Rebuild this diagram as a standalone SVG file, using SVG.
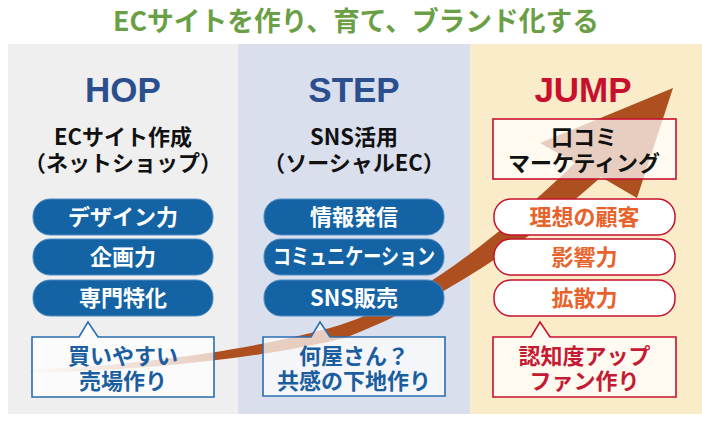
<svg xmlns="http://www.w3.org/2000/svg" width="702" height="421" viewBox="0 0 702 421">
<defs>
<linearGradient id="tailFade" gradientUnits="userSpaceOnUse" x1="30" y1="0" x2="215" y2="0">
<stop offset="0" stop-color="#ae4f1f" stop-opacity="0.05"/>
<stop offset="1" stop-color="#ae4f1f" stop-opacity="1"/>
</linearGradient>
<style>
.jp{font-family:"Noto Sans CJK JP","Noto Sans",sans-serif;font-weight:bold;text-anchor:middle}
.head{font-family:"Liberation Sans",Arial,sans-serif;font-weight:bold;font-size:35px;text-anchor:middle}
.sub{font-size:22px;fill:#111}
.bpill{fill:#1463a5;stroke:#4f8cc4;stroke-width:1}
.rpill{fill:#ffffff;stroke:#c8102e;stroke-width:1.5}
.bt{font-size:22px;fill:#ffffff}
.rt{font-size:22px;fill:#e8632b}
.callB{fill:#ffffff;fill-opacity:0.72;stroke:#2a6db0;stroke-width:1.6}
.callR{fill:#ffffff;fill-opacity:0.72;stroke:#c8102e;stroke-width:1.6}
.ctB{font-size:22px;fill:#1b5e9f}
.ctR{font-size:22px;fill:#c41a34}
</style>
</defs>

<rect x="0" y="0" width="702" height="421" fill="#ffffff"/>
<text class="jp" x="356" y="31" font-size="27" fill="#6a9f45" textLength="486" lengthAdjust="spacingAndGlyphs">ECサイトを作り、育て、ブランド化する</text>

<g id="panels">
<rect x="8" y="44" width="230" height="370" fill="#efefef"/>
<rect x="238" y="44" width="232" height="370" fill="#d9dfec"/>
<rect x="470" y="44" width="232" height="370" fill="#faebc9"/>
</g>

<g id="connectors">
<path id="growth-arrow" fill="url(#tailFade)" d="M30,370 C160,364 270,346 340,325 C420,300 500,235 575,163 L540,143 L673,88 L637,198 L601,177 C520,250 430,305 345,338 C270,356 160,370 30,373 Z"/>
</g>

<g id="hop">
<text class="head" x="123" y="102" fill="#2b4f8e">HOP</text>
<text class="jp sub" x="123" y="145">ECサイト作成</text>
<text class="jp sub" x="123" y="171">（ネットショップ）</text>
</g>
<g id="hop-design"><rect class="bpill" x="33" y="199" width="180" height="36" rx="17"/><text class="jp bt" x="123" y="225">デザイン力</text></g>
<g id="hop-plan"><rect class="bpill" x="33" y="239" width="180" height="36" rx="17"/><text class="jp bt" x="123" y="265">企画力</text></g>
<g id="hop-special"><rect class="bpill" x="33" y="280" width="180" height="36" rx="17"/><text class="jp bt" x="123" y="306">専門特化</text></g>
<g id="hop-callout">
<path class="callB" d="M32,337 H79 L88,322 L98,337 H214 V397 H32 Z"/>
<text class="jp ctB" x="123" y="364">買いやすい</text>
<text class="jp ctB" x="123" y="389">売場作り</text>
</g>

<g id="step">
<text class="head" x="354" y="102" fill="#2b4f8e">STEP</text>
<text class="jp sub" x="354" y="145">SNS活用</text>
<text class="jp sub" x="354" y="171">（ソーシャルEC）</text>
</g>
<g id="step-info"><rect class="bpill" x="264" y="199" width="180" height="36" rx="17"/><text class="jp bt" x="354" y="225">情報発信</text></g>
<g id="step-comm"><rect class="bpill" x="264" y="239" width="180" height="36" rx="17"/><text class="jp bt" x="354" y="264" font-size="20" textLength="162" lengthAdjust="spacingAndGlyphs">コミュニケーション</text></g>
<g id="step-sales"><rect class="bpill" x="264" y="280" width="180" height="36" rx="17"/><text class="jp bt" x="354" y="306">SNS販売</text></g>
<g id="step-callout">
<path class="callB" d="M263,337 H311 L320,322 L330,337 H445 V396 H263 Z"/>
<text class="jp ctB" x="354" y="364">何屋さん？</text>
<text class="jp ctB" x="354" y="389">共感の下地作り</text>
</g>

<g id="jump">
<text class="head" x="583" y="102" fill="#c8102e">JUMP</text>
</g>
<g id="jump-box">
<rect x="493" y="119" width="183" height="60" fill="#ffffff" fill-opacity="0.72" stroke="#c8102e" stroke-width="1.6"/>
<text class="jp sub" x="584" y="145">口コミ</text>
<text class="jp sub" x="584" y="171">マーケティング</text>
</g>
<g id="jump-ideal"><rect class="rpill" x="494" y="199" width="181" height="36" rx="17"/><text class="jp rt" x="584.5" y="225">理想の顧客</text></g>
<g id="jump-influence"><rect class="rpill" x="494" y="239" width="181" height="36" rx="17"/><text class="jp rt" x="584.5" y="265">影響力</text></g>
<g id="jump-spread"><rect class="rpill" x="494" y="280" width="181" height="36" rx="17"/><text class="jp rt" x="584.5" y="306">拡散力</text></g>
<g id="jump-callout">
<path class="callR" d="M493,337 H531 L540,322 L550,337 H676 V397 H493 Z"/>
<text class="jp ctR" x="584.5" y="364">認知度アップ</text>
<text class="jp ctR" x="584.5" y="389">ファン作り</text>
</g>
</svg>
